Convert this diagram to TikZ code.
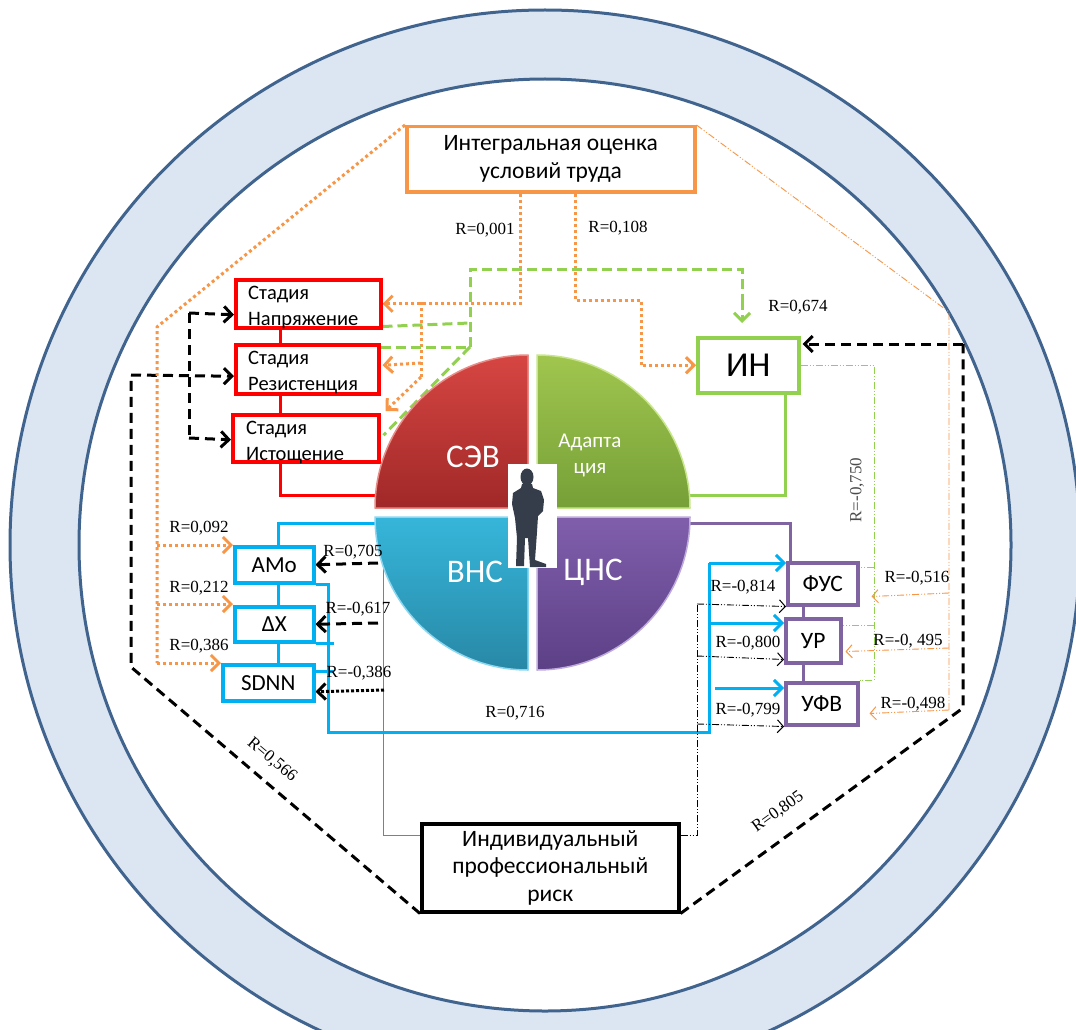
\documentclass[tikz,border=0pt]{standalone}
\usepackage{fontspec}
\setmainfont{Liberation Serif}
\newfontfamily\calib{Carlito}
\usetikzlibrary{arrows.meta,calc}

\definecolor{ringfill}{HTML}{DCE6F2}
\definecolor{ringline}{HTML}{41648F}
\definecolor{orng}{HTML}{F79646}
\definecolor{lgreen}{HTML}{92D050}
\definecolor{cyanb}{HTML}{00B0F0}
\definecolor{purp}{HTML}{8064A2}
\definecolor{redb}{HTML}{FF0000}
\definecolor{figdark}{HTML}{363D4A}
% pie colours
\definecolor{redtop}{RGB}{214,70,66}
\definecolor{redbot}{RGB}{160,40,40}
\definecolor{rededge}{RGB}{232,140,135}
\definecolor{grntop}{RGB}{160,198,78}
\definecolor{grnbot}{RGB}{118,160,56}
\definecolor{grnedge}{RGB}{200,230,140}
\definecolor{blutop}{RGB}{54,182,218}
\definecolor{blubot}{RGB}{40,136,166}
\definecolor{bluedge}{RGB}{140,215,240}
\definecolor{purtop}{RGB}{128,94,172}
\definecolor{purbot}{RGB}{92,64,134}
\definecolor{puredge}{RGB}{190,170,220}

\pgfdeclarelayer{ring}
\pgfdeclarelayer{links}
\pgfsetlayers{ring,links,main}

\tikzset{
  box/.style={draw, line width=3.5pt, fill=white, inner sep=0pt, anchor=north west},
  redbox/.style={box, draw=redb},
  stagetxt/.style={font=\calib\fontsize{20.5}{26}\selectfont, align=left, inner sep=0pt, anchor=west},
  bluebox/.style={box, draw=cyanb, font=\calib\fontsize{23}{24}\selectfont},
  purpbox/.style={box, draw=purp, font=\calib\fontsize{23.5}{24}\selectfont},
  rlab/.style={font=\fontsize{17}{18}\selectfont, inner sep=1pt},
  barb/.style={-{Straight Barb[length=8pt,width=16pt]}},
  sbarb/.style={-{Straight Barb[length=6pt,width=13pt,line width=1pt]}},
  bdash/.style={black, line width=3pt, dash pattern=on 10pt off 6pt},
  bdot/.style={black, line width=3pt, dash pattern=on 3pt off 2pt},
  odot/.style={orng, line width=3pt, dash pattern=on 3pt off 3pt},
  gdash/.style={lgreen, line width=3pt, dash pattern=on 10pt off 5pt},
  thindd/.style={line width=0.9pt, dash pattern=on 7pt off 2pt on 1pt off 2pt on 1pt off 2pt},
  solidln/.style={line width=3pt},
}

\begin{document}
\begin{tikzpicture}[x=1pt,y=-1pt]
\useasboundingbox (0,0) rectangle (1076,1030);

\begin{pgfonlayer}{ring}
\fill[white] (0,0) rectangle (1076,1030);
\begin{scope}
\clip (0,0) rectangle (1076,1030);
\fill[ringfill] (545,545) circle[radius=535pt];
\draw[ringline, line width=3pt] (545,545) circle[radius=535pt];
\fill[white] (545,545) circle[radius=466pt];
\draw[ringline, line width=3pt] (545,545) circle[radius=466pt];
\end{scope}
\end{pgfonlayer}

% ---------- boxes ----------
\node[box, draw=orng, minimum width=288pt, minimum height=65pt, align=center,
      font=\calib\fontsize{23.5}{28}\selectfont] (top) at (405,125)
      {Интегральная оценка\\условий труда};
\node[redbox, minimum width=145pt, minimum height=48pt] (nap) at (234,278) {};
\node[redbox, minimum width=143pt, minimum height=49pt] (res) at (234,343) {};
\node[redbox, minimum width=146pt, minimum height=47pt] (ist) at (231,413) {};
\node[stagetxt] (napT) at ($(nap.west)+(14,4)$) {Стадия\\Напряжение};
\node[stagetxt] (resT) at ($(res.west)+(14,3.5)$) {Стадия\\Резистенция};
\node[stagetxt] (istT) at ($(ist.west)+(15,4)$) {Стадия\\Истощение};
\node[box, draw=lgreen, minimum width=101pt, minimum height=55pt, font=\calib\fontsize{35}{36}\selectfont] (IN) at (696,336) {ИН};
\node[bluebox, minimum width=79pt, minimum height=36pt] (amo) at (233,545) {АМо};
\node[bluebox, minimum width=79pt, minimum height=35pt] (dx) at (233,605) {ΔX};
\node[bluebox, minimum width=91pt, minimum height=36pt] (sdnn) at (221,663) {SDNN};
\node[purpbox, minimum width=70pt, minimum height=42pt] (fus) at (786,561) {ФУС};
\node[purpbox, minimum width=55pt, minimum height=44pt] (ur) at (784,617) {УР};
\node[purpbox, minimum width=72pt, minimum height=42pt] (ufv) at (784,681) {УФВ};
\node[box, draw=black, minimum width=257pt, minimum height=88pt, align=center,
      font=\calib\fontsize{23.5}{27.5}\selectfont] (risk) at (420,822)
      {Индивидуальный\\профессиональный\\риск};

% ---------- reference points ----------
\coordinate (rx) at (280,0);
\coordinate (bx) at (278,0);
\coordinate (gx) at (785,0);
\coordinate (px) at (790,0);
\coordinate (vx) at (803,0);
\coordinate (pieRed) at (380,495);
\coordinate (pieGreen) at (688,495);
\coordinate (pieBlue) at (378,523);
\coordinate (piePurp) at (688,523);

% ---------- connectors ----------
\begin{pgfonlayer}{links}
% red chain
\draw[redb, solidln] (nap.south -| rx) -- (res.north -| rx);
\draw[redb, solidln] (res.south -| rx) -- (ist.north -| rx);
\draw[redb, solidln] (ist.south -| rx) |- (pieRed);
% green solid
\draw[lgreen, solidln] (IN.south -| gx) |- (pieGreen);
% blue chain
\draw[cyanb, solidln] (amo.north -| bx) |- (pieBlue);
\draw[cyanb, solidln] (amo.south -| bx) -- (dx.north -| bx);
\draw[cyanb, solidln] (dx.south -| bx) -- (sdnn.north -| bx);
% purple chain
\draw[purp, solidln] (piePurp) -| (fus.north -| px);
\draw[purp, solidln] (fus.south -| vx) -- (ur.north -| vx);
\draw[purp, solidln] (ur.south -| vx) -- (ufv.north -| vx);

% blue loop R=0,716
\coordinate (bl) at (328,732);
\coordinate (br) at (709,732);
\draw[cyanb, solidln] (amo.south east) -| (bl) -- (br) -- (709,563);
\draw[cyanb, solidln] (dx.south east) -- ++(18,0);
\draw[cyanb, solidln] ($(sdnn.north east)+(0,8)$) -- ++(18,0);
\draw[cyanb, solidln, barb] (709,563) -- ($(fus.north west)+(0,2)$);
\draw[cyanb, solidln, barb] (709,623) -- ($(ur.north west)+(0,6)$);
\draw[cyanb, solidln, barb] (715,688) -- ($(ufv.north west)+(0,7)$);

% thin grey line to risk
\draw[gray, line width=1pt] (383,565) |- ($(risk.north west)+(0,13)$);

% black dash-dot from risk to ФУС / УР / УФВ
\draw[thindd] ($(risk.north east)+(0,13)$) -| (697,604);
\draw[thindd, sbarb] (697,604) -- (fus.south west);
\draw[thindd, sbarb] (697,656) -- ($(ur.south west)+(0,-5)$);
\draw[thindd, sbarb] (697,724) -- (ufv.south west);

% green dash-dot R=-0,750
\draw[lgreen, thindd] (IN.east) -| (874,680) -- ($(ufv.north east)+(0,-1)$);
\draw[lgreen, thindd] (874,567) -- ($(fus.north east)+(0,6)$);
\draw[lgreen, thindd] (874,625) -- ($(ur.north east)+(0,8)$);

% orange dash-dot from the top box
\draw[orng, thindd] (top.north east) -- (949,312) -- (949,710);
\draw[orng, thindd, sbarb] (949,593) -- ($(fus.south east)+(12,-10)$);
\draw[orng, thindd, sbarb] (949,648) -- ($(ur.south east)+(3,-13)$);
\draw[orng, thindd, sbarb] (949,710) -- ($(ufv.south east)+(10,-13)$);

% big black dashed connections of the risk box
\draw[bdash] (risk.south east) -- (963,708) -- (963,344);
\draw[bdash, barb] (963,344) -- ($(IN.north east)+(2,8)$);
\draw[bdash] (risk.south west) -- (131,667) -- (131,375);
\draw[bdash, barb] (131,375) -- ($(res.west)+(0,7)$);

% stage loop
\draw[bdash] (189,313) -- (189,438);
\draw[bdash, barb] (189,313) -- ($(nap.west)+(0,11)$);
\draw[bdash, barb] (189,438) -- ($(ist.west)+(0,1.5)$);

% orange dotted from the top box
\draw[odot, barb] (top.south -| 520,0) |- (nap.east);
\draw[odot] (421,302) -- (421,377);
\draw[odot, barb] (421,377) -- ($(ist.north east)+(5,-2)$);
\draw[odot, barb] (421,363) -- ($(res.east)+(2,-4)$);
\draw[odot, barb] (top.south -| 575,0) |- (641,300) |- (IN.west);
\draw[odot] (top.north west) -- (157,327) -- (157,663);
\draw[odot, barb] (157,545) -- (amo.north west);
\draw[odot, barb] (157,604) -- ($(dx.north west)+(0,-1)$);
\draw[odot, barb] (157,663) -- (sdnn.north west);

% green dashed
\draw[gdash] (470,347) -- (470,269) -- (742,269) -- (742,300);
\draw[gdash, barb] (742,300) -- (742,323);
\draw[gdash] ($(nap.south east)+(0,-3)$) -- (470,323);
\draw[gdash] ($(res.north east)+(0,4)$) -- (470,347);
\draw[gdash] (470,347) -- ($(ist.east)+(3,-3)$);

% black arrows from the pie to the heart-rate boxes
\draw[bdash, barb] (378,563) -- (amo.east);
\draw[bdash, barb] (378,623) -- (dx.east);
\draw[bdot, barb] (384,690) -- ($(sdnn.east)+(0,9)$);
\end{pgfonlayer}

% ---------- central pie ----------
\shade[top color=redtop, bottom color=redbot]
  (528,508) -- (375,508) arc[start angle=180, end angle=90, radius=153pt] -- cycle;
\draw[rededge, line width=1.5pt, line join=round]
  (528,508) -- (375,508) arc[start angle=180, end angle=90, radius=153pt] -- cycle;
\shade[top color=grntop, bottom color=grnbot]
  (537,508) -- (537,355) arc[start angle=90, end angle=0, radius=153pt] -- cycle;
\draw[grnedge, line width=1.5pt, line join=round]
  (537,508) -- (537,355) arc[start angle=90, end angle=0, radius=153pt] -- cycle;
\shade[top color=blutop, bottom color=blubot]
  (528,517) -- (528,670) arc[start angle=270, end angle=180, radius=153pt] -- cycle;
\draw[bluedge, line width=1.5pt, line join=round]
  (528,517) -- (528,670) arc[start angle=270, end angle=180, radius=153pt] -- cycle;
\shade[top color=purtop, bottom color=purbot]
  (537,517) -- (690,517) arc[start angle=0, end angle=-90, radius=153pt] -- cycle;
\draw[puredge, line width=1.5pt, line join=round]
  (537,517) -- (690,517) arc[start angle=0, end angle=-90, radius=153pt] -- cycle;

\node[white, font=\calib\fontsize{33}{34}\selectfont] (sev) at (473,457) {СЭВ};
\node[white, font=\calib\fontsize{21}{26}\selectfont, align=center] (adapt) at (590,455) {Адапта\\ция};
\node[white, font=\calib\fontsize{33}{34}\selectfont] (vns) at (475,572) {ВНС};
\node[white, font=\calib\fontsize{33}{34}\selectfont] (cns) at (593,572) {ЦНС};

% person in the middle
\fill[white] (508,464) rectangle (557,568);
\fill[figdark] (527,477) ellipse[x radius=6.5pt, y radius=8.5pt];
\fill[figdark] (522,484) -- (532,484) -- (533,488) -- (541,491) -- (544,500) -- (543,511)
  -- (538,516) -- (537,532) -- (535,560) -- (546,564) -- (546,567) -- (530,567)
  -- (528,538) -- (525,538) -- (524,566) -- (516,566) -- (517,538) -- (515,518)
  -- (512,504) -- (513,493) -- (521,488) -- cycle;

% ---------- correlation labels ----------
\node[rlab] (l1) at (485,230) {R=0,001};
\node[rlab] (l2) at (618,228) {R=0,108};
\node[rlab] (l3) at (798,307) {R=0,674};
\node[rlab] (l4) at (199,528) {R=0,092};
\node[rlab] (l5) at (199,588) {R=0,212};
\node[rlab] (l6) at (199,646) {R=0,386};
\node[rlab] (l7) at (353,552) {R=0,705};
\node[rlab] (l8) at (358,609) {R=-0,617};
\node[rlab] (l9) at (359,673) {R=-0,386};
\node[rlab] (l10) at (515,713) {R=0,716};
\node[rlab, rotate=-40] (l11) at (272,760) {R=0,566};
\node[rlab, rotate=36] (l12) at (778,812) {R=0,805};
\node[rlab] (l13) at (743,587) {R=-0,814};
\node[rlab] (l14) at (748,643) {R=-0,800};
\node[rlab] (l15) at (748,710) {R=-0,799};
\node[rlab] (l16) at (917,578) {R=-0,516};
\node[rlab] (l17) at (908,641) {R=-0, 495};
\node[rlab] (l18) at (913,704) {R=-0,498};
\node[rlab, rotate=90, text=black!70] (l19) at (857,490) {R=-0,750};
\end{tikzpicture}
\end{document}
